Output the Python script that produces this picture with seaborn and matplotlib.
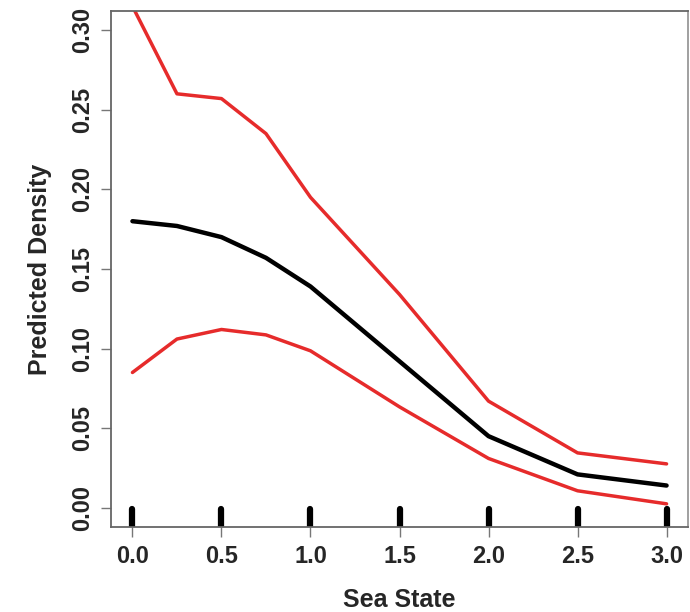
import matplotlib
matplotlib.use("Agg")
import matplotlib.pyplot as plt
import seaborn as sns
import pandas as pd

sea_state = [0.0, 0.25, 0.5, 0.75, 1.0, 1.5, 2.0, 2.5, 3.0]
predicted = [0.180, 0.177, 0.170, 0.157, 0.139, 0.092, 0.045, 0.021, 0.014]
upper_ci = [0.315, 0.260, 0.257, 0.235, 0.195, 0.134, 0.067, 0.0345, 0.0276]
lower_ci = [0.085, 0.106, 0.112, 0.1086, 0.0986, 0.0634, 0.031, 0.0107, 0.0025]
rug_x = [0.0, 0.5, 1.0, 1.5, 2.0, 2.5, 3.0]
x_ticks = [0.0, 0.5, 1.0, 1.5, 2.0, 2.5, 3.0]
x_tick_labels = ["0.0", "0.5", "1.0", "1.5", "2.0", "2.5", "3.0"]
y_ticks = [0.00, 0.05, 0.10, 0.15, 0.20, 0.25, 0.30]
y_tick_labels = ["0.00", "0.05", "0.10", "0.15", "0.20", "0.25", "0.30"]

sns.set_style("white")
plt.rcParams['font.family'] = ['Liberation Sans', 'DejaVu Sans']

fig = plt.figure(figsize=(6.9, 6.12), dpi=100)
ax = fig.add_axes([0.161, 0.139, 0.836, 0.843])

df = pd.DataFrame({"x": sea_state, "pred": predicted, "up": upper_ci, "lo": lower_ci})
red = "#e62b2b"
sns.lineplot(data=df, x="x", y="up", ax=ax, color=red, linewidth=2.5, estimator=None, sort=False)
sns.lineplot(data=df, x="x", y="lo", ax=ax, color=red, linewidth=2.5, estimator=None, sort=False)
sns.lineplot(data=df, x="x", y="pred", ax=ax, color="black", linewidth=3.2, estimator=None, sort=False)
sns.rugplot(x=rug_x, ax=ax, height=0.035, color="black", linewidth=4.5)
for coll in ax.collections:
    coll.set_capstyle("round")

ax.set_xlim(-0.12, 3.12)
ax.set_ylim(-0.012, 0.312)
ax.set_xticks(x_ticks)
ax.set_xticklabels(x_tick_labels, fontsize=17, fontweight="bold")
ax.set_yticks(y_ticks)
ax.set_yticklabels(y_tick_labels, fontsize=17, fontweight="bold", rotation=90, va="center")
ax.tick_params(axis="both", direction="out", length=7.2, width=1.0, color="#777777", pad=5,
               bottom=True, left=True)
ax.tick_params(axis="x", pad=6)
for s in ax.spines.values():
    s.set_visible(True)
    s.set_color("#666666")
    s.set_linewidth(1.3)
ax.spines["right"].set_color("#999999")

ax.set_xlabel("Sea State", fontsize=18, fontweight="bold", labelpad=14)
ax.set_ylabel("Predicted Density", fontsize=18, fontweight="bold", labelpad=14)

fig.savefig("out.png", dpi=100)
